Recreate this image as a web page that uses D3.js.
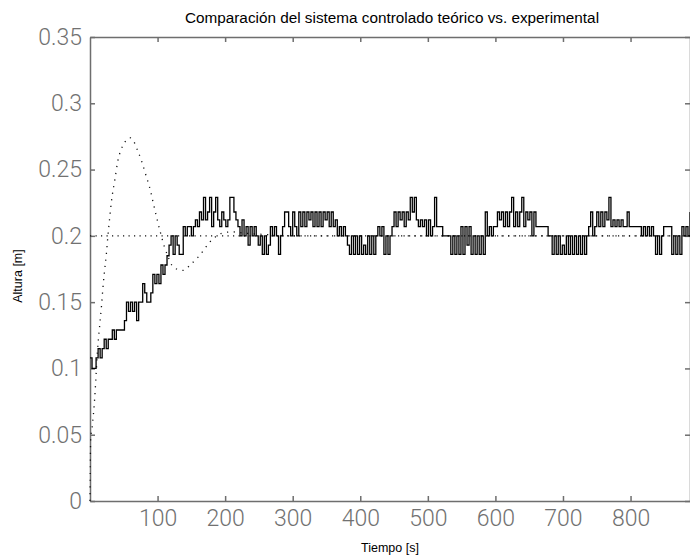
<!DOCTYPE html>
<html>
<head>
<meta charset="utf-8">
<script src="https://d3js.org/d3.v7.min.js"></script>
<style>
  body { margin: 0; background: #fff; }
  svg { display: block; }
  .eje path, .eje line { stroke: #6e6e6e; stroke-width: 1.5; }
  .eje text { font-family: Roboto, "Liberation Sans", Arial, sans-serif; font-weight: 300; font-size: 23px; fill: #717171; }
  .etiqueta { font-family: "Liberation Sans", Arial, sans-serif; font-size: 12.5px; fill: #000; }
  .titulo { font-family: "Liberation Sans", Arial, sans-serif; font-size: 15.3px; fill: #000; }
</style>
</head>
<body>
<svg id="grafica" width="690" height="557"></svg>
<script>
// datos
const titulo = "Comparación del sistema controlado teórico vs. experimental";
const etiquetaX = "Tiempo [s]";
const etiquetaY = "Altura [m]";

const xTicks = [100, 200, 300, 400, 500, 600, 700, 800];
const yTicks = [0, 0.05, 0.1, 0.15, 0.2, 0.25, 0.3, 0.35];
const yTickLabels = ["0", "0.05", "0.1", "0.15", "0.2", "0.25", "0.3", "0.35"];

const referencia = 0.2;

// respuesta experimental, una muestra cada 3 s desde t = 0
const expPaso = 3;
const expAltura = [
  0.108,0.1,0.1,0.108,0.115,0.108,0.115,0.122,0.115,0.122,
  0.122,0.129,0.122,0.129,0.129,0.129,0.129,0.136,0.15,0.143,
  0.15,0.143,0.15,0.136,0.15,0.15,0.164,0.157,0.15,0.15,
  0.157,0.171,0.164,0.171,0.164,0.178,0.171,0.178,0.185,0.193,
  0.2,0.186,0.2,0.193,0.186,0.186,0.207,0.2,0.207,0.207,
  0.2,0.207,0.212,0.207,0.218,0.212,0.229,0.212,0.218,0.229,
  0.207,0.218,0.229,0.212,0.207,0.218,0.212,0.207,0.212,0.229,
  0.229,0.218,0.212,0.207,0.2,0.212,0.2,0.207,0.193,0.207,
  0.2,0.207,0.2,0.193,0.2,0.186,0.2,0.186,0.193,0.207,
  0.2,0.207,0.2,0.186,0.2,0.207,0.218,0.218,0.207,0.2,
  0.218,0.207,0.2,0.218,0.207,0.218,0.207,0.218,0.212,0.218,
  0.207,0.218,0.207,0.218,0.207,0.218,0.212,0.218,0.207,0.218,
  0.207,0.212,0.2,0.207,0.2,0.207,0.2,0.193,0.186,0.2,
  0.186,0.2,0.186,0.2,0.186,0.193,0.186,0.2,0.186,0.2,
  0.186,0.2,0.207,0.2,0.207,0.186,0.2,0.186,0.2,0.207,
  0.218,0.207,0.218,0.212,0.218,0.207,0.218,0.212,0.229,0.218,
  0.229,0.212,0.207,0.212,0.207,0.212,0.2,0.212,0.2,0.207,
  0.229,0.207,0.207,0.207,0.2,0.2,0.2,0.2,0.186,0.2,
  0.186,0.2,0.186,0.207,0.186,0.207,0.193,0.207,0.186,0.2,
  0.186,0.2,0.186,0.2,0.186,0.218,0.2,0.207,0.2,0.207,
  0.207,0.218,0.212,0.218,0.207,0.218,0.207,0.218,0.229,0.207,
  0.218,0.207,0.218,0.229,0.207,0.218,0.212,0.218,0.2,0.218,
  0.207,0.207,0.207,0.207,0.207,0.207,0.2,0.2,0.186,0.2,
  0.186,0.2,0.186,0.193,0.186,0.2,0.186,0.2,0.186,0.2,
  0.186,0.2,0.186,0.2,0.186,0.2,0.207,0.218,0.2,0.207,
  0.218,0.207,0.218,0.207,0.218,0.212,0.229,0.207,0.212,0.207,
  0.212,0.207,0.212,0.207,0.207,0.218,0.207,0.207,0.207,0.207,
  0.207,0.207,0.2,0.207,0.2,0.207,0.2,0.207,0.2,0.186,
  0.2,0.186,0.2,0.207,0.207,0.207,0.207,0.186,0.2,0.186,
  0.2,0.186,0.207,0.2,0.207,0.2,0.218
];

// respuesta teorica (curva punteada)
const teoTiempo = [0, 0.5, 1, 3, 5, 7, 9, 11, 13, 15, 17, 19, 21, 24, 26, 29, 32, 37, 41, 46, 52, 59,
  65, 70, 76, 82, 88, 94, 99, 104, 110, 115, 121, 128, 138, 150, 160, 168, 175, 185, 195, 210, 230, 260, 300, 888];
const teoAltura = [0, 0.03, 0.047, 0.055, 0.065, 0.078, 0.095, 0.113, 0.125, 0.136, 0.147, 0.16, 0.171, 0.185, 0.197, 0.213, 0.227, 0.243, 0.256, 0.265, 0.271, 0.274,
  0.271, 0.265, 0.257, 0.247, 0.237, 0.224, 0.213, 0.203, 0.192, 0.185, 0.178, 0.175, 0.174, 0.179, 0.184, 0.189, 0.194, 0.199, 0.202, 0.203, 0.202, 0.201, 0.2, 0.2];

const margen = { izq: 90, der: 690, arriba: 37, abajo: 501 };
const svg = d3.select("#grafica");

const x = d3.scaleLinear().domain([0, 888]).range([margen.izq, margen.der]);
const y = d3.scaleLinear().domain([0, 0.35]).range([margen.abajo, margen.arriba]);

// ejes con las marcas hacia dentro, como en matlab
svg.append("g").attr("class", "eje")
  .attr("transform", "translate(0," + margen.abajo + ")")
  .call(d3.axisBottom(x).tickValues(xTicks).tickSizeInner(-5).tickSizeOuter(0).tickPadding(9).tickFormat(d3.format("d")));
svg.append("g").attr("class", "eje")
  .attr("transform", "translate(0," + margen.arriba + ")")
  .call(d3.axisTop(x).tickValues(xTicks).tickSizeInner(-5).tickSizeOuter(0).tickFormat(""));
svg.append("g").attr("class", "eje")
  .attr("transform", "translate(" + margen.izq + ",0)")
  .call(d3.axisLeft(y).tickValues(yTicks).tickSizeInner(-5).tickSizeOuter(0).tickPadding(8)
    .tickFormat((d, i) => yTickLabels[i]));
svg.append("g").attr("class", "eje")
  .attr("transform", "translate(" + margen.der + ",0)")
  .call(d3.axisRight(y).tickValues(yTicks).tickSizeInner(-5).tickSizeOuter(0).tickFormat(""));

// linea de referencia
svg.append("line")
  .attr("x1", x(0)).attr("x2", x(888))
  .attr("y1", y(referencia)).attr("y2", y(referencia))
  .attr("stroke", "#111").attr("stroke-width", 1.3)
  .attr("stroke-dasharray", "1.2,4.3");

// curva teorica
const lineaTeo = d3.line()
  .x((d, i) => x(teoTiempo[i]))
  .y(d => y(d))
  .curve(d3.curveMonotoneX);
svg.append("path")
  .datum(teoAltura)
  .attr("d", lineaTeo)
  .attr("fill", "none")
  .attr("stroke", "#111")
  .attr("stroke-width", 1.3)
  .attr("stroke-dasharray", "1.2,5.5");

// curva experimental (escalones)
const lineaExp = d3.line()
  .x((d, i) => x(i * expPaso))
  .y(d => y(d))
  .curve(d3.curveStepAfter);
svg.append("path")
  .datum(expAltura)
  .attr("d", lineaExp)
  .attr("fill", "none")
  .attr("stroke", "#000")
  .attr("stroke-width", 1.3);

// textos
svg.append("text").attr("class", "titulo")
  .attr("x", (margen.izq + margen.der) / 2 + 2).attr("y", 23)
  .attr("text-anchor", "middle").text(titulo);
svg.append("text").attr("class", "etiqueta")
  .attr("x", (margen.izq + margen.der) / 2).attr("y", 552)
  .attr("text-anchor", "middle").text(etiquetaX);
svg.append("text").attr("class", "etiqueta")
  .attr("transform", "translate(22,276) rotate(-90)")
  .attr("text-anchor", "middle").text(etiquetaY);
</script>
</body>
</html>
